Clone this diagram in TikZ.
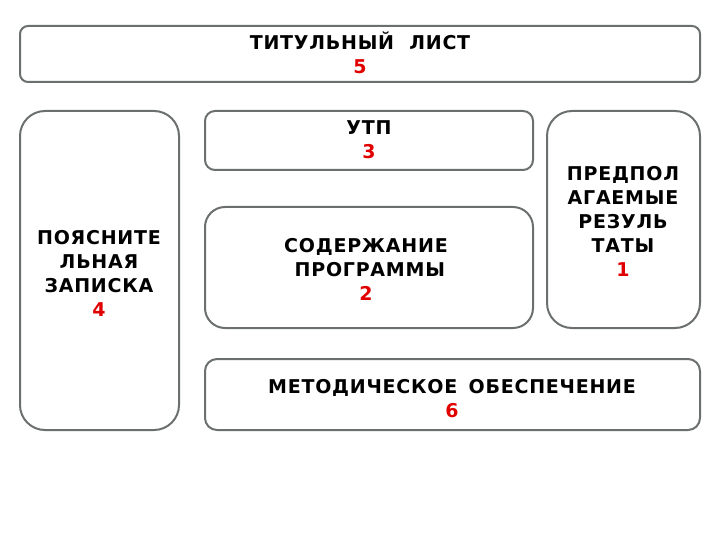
\documentclass[tikz,border=0pt]{standalone}
\usepackage{fontspec}
\setmainfont{DejaVu Sans}[LetterSpace=4]
\usetikzlibrary{positioning}
\definecolor{boxgray}{HTML}{6B706D}
\definecolor{numred}{HTML}{E00000}
\newcommand\mlines[1]{\vtop{\halign{\hfil##\hfil\cr#1\crcr}}}
\newcommand\nr[1]{\textcolor{numred}{#1}}
\tikzset{
  panel/.style={draw=boxgray, line width=2pt},
  lbl/.style={anchor=base, inner sep=0pt, font=\bfseries\fontsize{19}{24}\selectfont},
}
\begin{document}
\begin{tikzpicture}[x=1pt,y=-1pt]
\useasboundingbox (0,0) rectangle (720,540);
% boxes
\draw[panel, rounded corners=8pt] (20,26) rectangle (700,82);
\draw[panel, rounded corners=25pt] (20,111) rectangle (179,430);
\draw[panel, rounded corners=10pt] (205,111) rectangle (533,170);
\draw[panel, rounded corners=20pt] (205,207) rectangle (533,328);
\draw[panel, rounded corners=25pt] (547,111) rectangle (700,328);
\draw[panel, rounded corners=12pt] (205,359) rectangle (700,430);
% labels
\node[lbl] (title) at (360,50) {\mlines{ТИТУЛЬНЫЙ\hspace{0.8em}ЛИСТ\cr \nr{5}}};
\node[lbl] (expl) at (99,244) {\mlines{ПОЯСНИТЕ\cr ЛЬНАЯ\cr ЗАПИСКА\cr \nr{4}}};
\node[lbl] (utp) at (369,135) {\mlines{УТП\cr \nr{3}}};
\node[lbl] (content) at (366,252) {\mlines{СОДЕРЖАНИЕ\cr \hspace{0.4em}ПРОГРАММЫ\cr \nr{2}}};
\node[lbl] (results) at (623,181) {\mlines{ПРЕДПОЛ\cr АГАЕМЫЕ\cr РЕЗУЛЬ\cr ТАТЫ\cr \nr{1}}};
\node[lbl] (method) at (452,393) {\mlines{МЕТОДИЧЕСКОЕ\hspace{0.6em}ОБЕСПЕЧЕНИЕ\cr \nr{6}}};
\end{tikzpicture}
\end{document}
